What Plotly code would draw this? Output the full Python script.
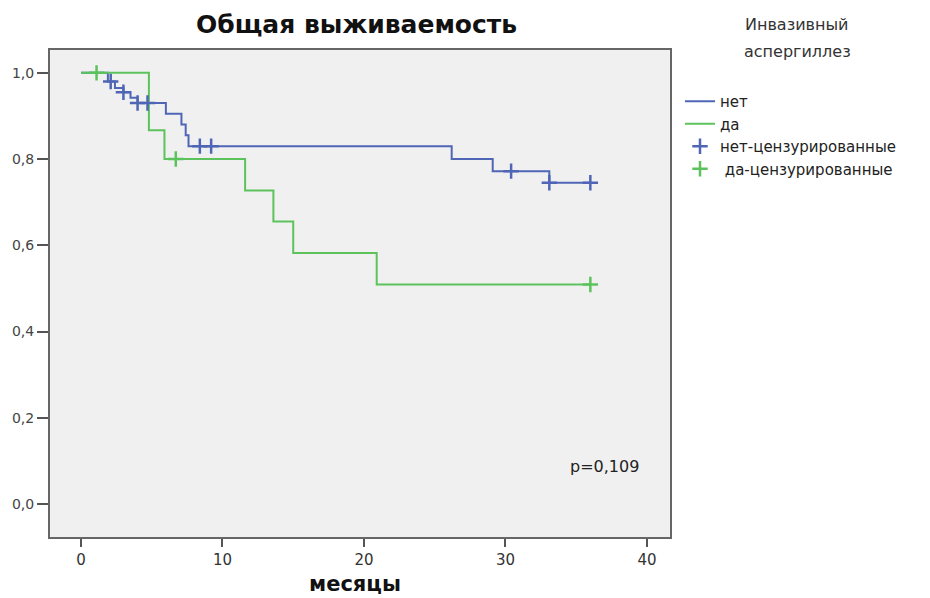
import plotly.graph_objects as go

# Blue group: "нет" (no invasive aspergillosis)
no_t = [0, 1.9, 2.4, 3.0, 3.5, 4.0, 6.0, 7.1, 7.4, 7.6, 26.2, 29.1, 33.1, 36.0]
no_s = [1.0, 0.98, 0.965, 0.955, 0.942, 0.93, 0.905, 0.88, 0.855, 0.83, 0.80, 0.772, 0.745, 0.745]
no_cens_t = [2.1, 3.0, 4.0, 4.7, 8.4, 9.2, 30.4, 33.1, 36.0]
no_cens_s = [0.98, 0.955, 0.93, 0.93, 0.83, 0.83, 0.772, 0.745, 0.745]

# Green group: "да" (invasive aspergillosis)
yes_t = [0, 4.8, 5.9, 11.6, 13.6, 15.0, 20.9, 36.0]
yes_s = [1.0, 0.867, 0.80, 0.727, 0.655, 0.582, 0.509, 0.509]
yes_cens_t = [1.1, 6.7, 36.0]
yes_cens_s = [1.0, 0.80, 0.509]

x_ticks = [0, 10, 20, 30, 40]
y_ticks = [0.0, 0.2, 0.4, 0.6, 0.8, 1.0]

BLUE = "#4f66b6"
GREEN = "#5cc35c"
FONT = "DejaVu Sans, Liberation Sans, sans-serif"

fig = go.Figure()
fig.add_trace(go.Scatter(x=no_t, y=no_s, mode="lines", line=dict(color=BLUE, width=2, shape="hv"),
                         name="нет"))
fig.add_trace(go.Scatter(x=yes_t, y=yes_s, mode="lines", line=dict(color=GREEN, width=2, shape="hv"),
                         name="да"))
fig.add_trace(go.Scatter(x=no_cens_t, y=no_cens_s, mode="markers",
                         marker=dict(symbol="cross-thin", size=11, line=dict(color=BLUE, width=2.5)),
                         name="нет-цензурированные"))
fig.add_trace(go.Scatter(x=yes_cens_t, y=yes_cens_s, mode="markers",
                         marker=dict(symbol="cross-thin", size=11, line=dict(color=GREEN, width=2.5)),
                         name=" да-цензурированные"))

# plot area spans x 50..670 px, y 50..537 px
def py(pix):
    return (537 - pix) / 487.0

def px(pix):
    return (pix - 50) / 620.0

fig.update_layout(
    width=930, height=598,
    margin=dict(l=50, r=260, t=50, b=61, autoexpand=False),
    paper_bgcolor="white",
    plot_bgcolor="#f0f0f0",
    separators=", ",
    font=dict(family=FONT, size=15, color="#333"),
    showlegend=True,
    legend=dict(x=px(680), y=py(85), xanchor="left", yanchor="top",
                bgcolor="rgba(0,0,0,0)", font=dict(family=FONT, size=15, color="#222"),
                itemwidth=30, tracegroupgap=0),
    xaxis=dict(range=[-2.19, 41.63], tickvals=x_ticks, ticks="outside", ticklen=8, tickwidth=2,
               tickcolor="#555", showgrid=False, zeroline=False, showline=True, linecolor="#666",
               linewidth=2, mirror=True, automargin=False,
               tickfont=dict(family=FONT, size=15, color="#333")),
    yaxis=dict(range=[-0.0766, 1.053], tickvals=y_ticks, tickformat=".1f", ticks="outside",
               ticklen=11, tickwidth=2, tickcolor="#555", showgrid=False, zeroline=False,
               showline=True, linecolor="#666", linewidth=2, mirror=True, automargin=False,
               tickfont=dict(family=FONT, size=14, color="#444")),
    annotations=[
        dict(text="<b>Общая выживаемость</b>", xref="paper", yref="paper", x=px(356), y=py(25),
             xanchor="center", yanchor="middle", showarrow=False,
             font=dict(family=FONT, size=25, color="#111")),
        dict(text="Инвазивный", xref="paper", yref="paper", x=px(797), y=py(25),
             xanchor="center", yanchor="middle", showarrow=False,
             font=dict(family=FONT, size=16, color="#333")),
        dict(text="аспергиллез", xref="paper", yref="paper", x=px(797), y=py(52),
             xanchor="center", yanchor="middle", showarrow=False,
             font=dict(family=FONT, size=16, color="#333")),
        dict(text="<b>месяцы</b>", xref="paper", yref="paper", x=px(355), y=py(584),
             xanchor="center", yanchor="middle", showarrow=False,
             font=dict(family=FONT, size=21, color="#111")),
        dict(text="p=0,109", xref="x", yref="y", x=37.0, y=0.086, xanchor="center",
             yanchor="middle", showarrow=False, font=dict(family=FONT, size=16, color="#222")),
    ],
)

fig.write_html("out.html")
